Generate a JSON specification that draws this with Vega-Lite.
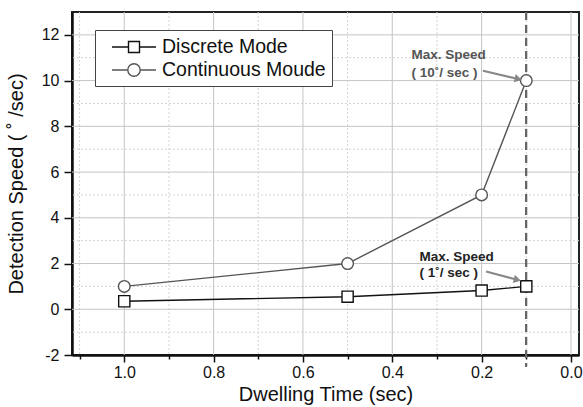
{
  "$schema": "https://vega.github.io/schema/vega-lite/v6.json",
  "width": 507,
  "height": 343,
  "autosize": {"type": "none"},
  "padding": {"left": 72, "top": 12, "right": 4, "bottom": 52},
  "background": "white",
  "config": {
    "view": {"stroke": "#222", "strokeWidth": 2},
    "font": "Liberation Sans",
    "axis": {
      "domainColor": "#111", "domainWidth": 2.5, "tickColor": "#111", "tickWidth": 1.5,
      "labelFont": "Liberation Sans", "labelFontSize": 16, "labelColor": "#111",
      "titleFont": "Liberation Sans", "titleFontSize": 20, "titleFontWeight": "normal", "titleColor": "#111",
      "grid": false
    }
  },
  "datasets": {
    "series": [
      {"dwell": 1.0, "speed": 0.35, "mode": "Discrete Mode"},
      {"dwell": 0.5, "speed": 0.55, "mode": "Discrete Mode"},
      {"dwell": 0.2, "speed": 0.82, "mode": "Discrete Mode"},
      {"dwell": 0.1, "speed": 1.0, "mode": "Discrete Mode"},
      {"dwell": 1.0, "speed": 1.0, "mode": "Continuous Moude"},
      {"dwell": 0.5, "speed": 2.0, "mode": "Continuous Moude"},
      {"dwell": 0.2, "speed": 5.0, "mode": "Continuous Moude"},
      {"dwell": 0.1, "speed": 10.0, "mode": "Continuous Moude"}
    ],
    "xgrid": [
      {"v": 1.1, "major": false}, {"v": 1.0, "major": true}, {"v": 0.9, "major": false},
      {"v": 0.8, "major": true}, {"v": 0.7, "major": false}, {"v": 0.6, "major": true},
      {"v": 0.5, "major": false}, {"v": 0.4, "major": true}, {"v": 0.3, "major": false},
      {"v": 0.2, "major": true}, {"v": 0.1, "major": false}, {"v": 0.0, "major": true}
    ],
    "ygrid": [
      {"v": -1, "major": false}, {"v": 0, "major": true}, {"v": 1, "major": false},
      {"v": 2, "major": true}, {"v": 3, "major": false}, {"v": 4, "major": true},
      {"v": 5, "major": false}, {"v": 6, "major": true}, {"v": 7, "major": false},
      {"v": 8, "major": true}, {"v": 9, "major": false}, {"v": 10, "major": true},
      {"v": 11, "major": false}, {"v": 12, "major": true}
    ],
    "notes": [
      {"x": 0.357, "y": 11.1, "label": "Max. Speed", "tone": "a"},
      {"x": 0.357, "y": 10.35, "label": "( 10˚/ sec )", "tone": "a"},
      {"x": 0.339, "y": 2.3, "label": "Max. Speed", "tone": "b"},
      {"x": 0.339, "y": 1.6, "label": "( 1˚/ sec )", "tone": "b"}
    ],
    "arrows": [
      {"x": 0.197, "y": 10.43, "x2": 0.118, "y2": 10.07},
      {"x": 0.19, "y": 1.65, "x2": 0.12, "y2": 1.29}
    ]
  },
  "layer": [
    {
      "data": {"name": "xgrid"},
      "transform": [{"filter": "datum.major"}],
      "mark": {"type": "rule", "color": "#c4c4c4", "strokeWidth": 1},
      "encoding": {"x": {"field": "v", "type": "quantitative"}}
    },
    {
      "data": {"name": "xgrid"},
      "transform": [{"filter": "!datum.major"}],
      "mark": {"type": "rule", "color": "#d4d4d4", "strokeWidth": 1, "strokeDash": [2, 2]},
      "encoding": {"x": {"field": "v", "type": "quantitative"}}
    },
    {
      "data": {"name": "ygrid"},
      "transform": [{"filter": "datum.major"}],
      "mark": {"type": "rule", "color": "#c4c4c4", "strokeWidth": 1},
      "encoding": {"y": {"field": "v", "type": "quantitative"}}
    },
    {
      "data": {"name": "ygrid"},
      "transform": [{"filter": "!datum.major"}],
      "mark": {"type": "rule", "color": "#d4d4d4", "strokeWidth": 1, "strokeDash": [2, 2]},
      "encoding": {"y": {"field": "v", "type": "quantitative"}}
    },
    {
      "data": {"name": "series"},
      "mark": {"type": "line", "strokeWidth": 1.4},
      "encoding": {
        "x": {"field": "dwell", "type": "quantitative",
          "scale": {"domain": [1.117, -0.018], "nice": false, "zero": false},
          "axis": {
            "title": "Dwelling Time (sec)",
            "values": [1.1, 1.0, 0.9, 0.8, 0.7, 0.6, 0.5, 0.4, 0.3, 0.2, 0.1, 0.0],
            "format": ".1f",
            "labelExpr": "round(datum.value*10) % 2 === 0 ? datum.label : ''",
            "tickSize": {"condition": {"test": "round(datum.value*10) % 2 === 0", "value": 7}, "value": 4},
            "labelPadding": 2,
            "titlePadding": 4
          }
        },
        "y": {"field": "speed", "type": "quantitative",
          "scale": {"domain": [-2, 13], "nice": false, "zero": false},
          "axis": {
            "title": "Detection Speed ( ˚ /sec)",
            "values": [-2, -1, 0, 1, 2, 3, 4, 5, 6, 7, 8, 9, 10, 11, 12],
            "labelExpr": "datum.value % 2 === 0 ? '' + datum.value : ''",
            "tickSize": {"condition": {"test": "datum.value % 2 === 0", "value": 8}, "value": 4},
            "labelPadding": 5,
            "titlePadding": 15
          }
        },
        "detail": {"field": "mode"},
        "stroke": {"field": "mode", "type": "nominal",
          "scale": {"domain": ["Discrete Mode", "Continuous Moude"], "range": ["#111111", "#555555"]}}
      }
    },
    {
      "data": {"name": "series"},
      "mark": {"type": "rule", "color": "#666", "strokeDash": [8, 5], "strokeWidth": 1.5, "clip": false},
      "encoding": {
        "x": {"datum": 0.1, "type": "quantitative"},
        "y": {"datum": 13, "type": "quantitative"},
        "y2": {"datum": -2.5}
      }
    },
    {
      "data": {"name": "series"},
      "transform": [{"filter": "datum.mode === 'Discrete Mode'"}],
      "mark": {"type": "point", "shape": "square", "size": 125, "filled": true, "fill": "white", "strokeWidth": 1.4, "opacity": 1},
      "encoding": {
        "x": {"field": "dwell", "type": "quantitative"},
        "y": {"field": "speed", "type": "quantitative"},
        "stroke": {"field": "mode", "type": "nominal"}
      }
    },
    {
      "data": {"name": "series"},
      "transform": [{"filter": "datum.mode === 'Continuous Moude'"}],
      "mark": {"type": "point", "shape": "circle", "size": 135, "filled": true, "fill": "white", "strokeWidth": 1.4, "opacity": 1},
      "encoding": {
        "x": {"field": "dwell", "type": "quantitative"},
        "y": {"field": "speed", "type": "quantitative"},
        "stroke": {"field": "mode", "type": "nominal"}
      }
    },
    {
      "data": {"name": "series"},
      "mark": {"type": "point", "filled": true, "fill": "white", "strokeWidth": 1.4, "opacity": 0},
      "encoding": {
        "x": {"field": "dwell", "type": "quantitative"},
        "y": {"field": "speed", "type": "quantitative"},
        "shape": {"field": "mode", "type": "nominal",
          "scale": {"domain": ["Discrete Mode", "Continuous Moude"],
            "range": ["M-2.2,0H-0.55M0.55,0H2.2M-0.55,-0.55H0.55V0.55H-0.55Z",
                      "M-2.2,0H-0.62M0.62,0H2.2M-0.62,0A0.62,0.62 0 1,0 0.62,0A0.62,0.62 0 1,0 -0.62,0Z"]},
          "legend": {
            "title": null, "orient": "none", "legendX": 23, "legendY": 18,
            "fillColor": "white", "strokeColor": "#444", "padding": 6,
            "labelFont": "Liberation Sans", "labelFontSize": 19.5, "labelColor": "#111", "labelLimit": 400,
            "symbolSize": 400, "symbolOffset": 22, "labelOffset": 17, "rowPadding": 2,
            "symbolOpacity": 1, "symbolFillColor": "white", "symbolStrokeWidth": 1.4
          }
        },
        "stroke": {"field": "mode", "type": "nominal"}
      }
    },
    {
      "data": {"name": "arrows"},
      "mark": {"type": "rule", "color": "#888", "strokeWidth": 2.2},
      "encoding": {
        "x": {"field": "x", "type": "quantitative"},
        "y": {"field": "y", "type": "quantitative"},
        "x2": {"field": "x2"},
        "y2": {"field": "y2"}
      }
    },
    {
      "data": {"name": "arrows"},
      "mark": {"type": "point", "shape": "triangle-right", "size": 70, "filled": true, "color": "#888", "angle": 14, "opacity": 1},
      "encoding": {
        "x": {"field": "x2", "type": "quantitative"},
        "y": {"field": "y2", "type": "quantitative"}
      }
    },
    {
      "data": {"name": "notes"},
      "mark": {"type": "text", "align": "left", "baseline": "middle", "font": "Liberation Sans", "fontSize": 13.5, "fontWeight": "bold"},
      "encoding": {
        "x": {"field": "x", "type": "quantitative"},
        "y": {"field": "y", "type": "quantitative"},
        "text": {"field": "label"},
        "color": {"field": "tone", "type": "nominal", "scale": {"domain": ["a", "b"], "range": ["#555555", "#222222"]}, "legend": null}
      }
    }
  ]
}
